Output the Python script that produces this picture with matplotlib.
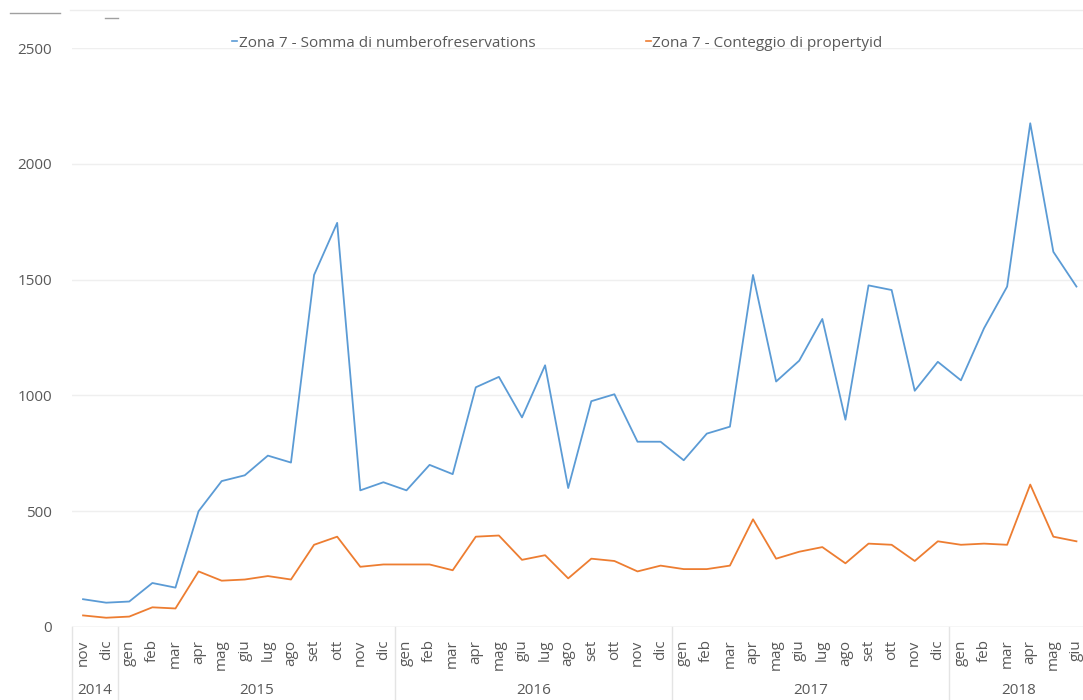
import matplotlib.pyplot as plt
from matplotlib.lines import Line2D
from matplotlib.transforms import blended_transform_factory

# ---------- data ----------
months = ["nov", "dic",
          "gen", "feb", "mar", "apr", "mag", "giu", "lug", "ago", "set", "ott", "nov", "dic",
          "gen", "feb", "mar", "apr", "mag", "giu", "lug", "ago", "set", "ott", "nov", "dic",
          "gen", "feb", "mar", "apr", "mag", "giu", "lug", "ago", "set", "ott", "nov", "dic",
          "gen", "feb", "mar", "apr", "mag", "giu"]
years = ["2014", "2015", "2016", "2017", "2018"]
months_per_year = [2, 12, 12, 12, 6]

reservations = [120, 105, 110, 190, 170, 500, 630, 655, 740, 710, 1520, 1745, 590, 625,
                590, 700, 660, 1035, 1080, 905, 1130, 600, 975, 1005, 800, 800,
                720, 835, 865, 1520, 1060, 1150, 1330, 895, 1475, 1455, 1020, 1145,
                1065, 1290, 1470, 2175, 1620, 1470]
propertyid = [50, 40, 45, 85, 80, 240, 200, 205, 220, 205, 355, 390, 260, 270,
              270, 270, 245, 390, 395, 290, 310, 210, 295, 285, 240, 265,
              250, 250, 265, 465, 295, 325, 345, 275, 360, 355, 285, 370,
              355, 360, 355, 615, 390, 370]

series_names = ["Zona 7 - Somma di numberofreservations",
                "Zona 7 - Conteggio di propertyid"]

# ---------- style ----------
plt.rcParams["font.family"] = ["Open Sans", "DejaVu Sans"]
text_color = "#595959"
blue = "#5B9BD5"
orange = "#ED7D31"
grid_color = "#EFEFEF"

fig = plt.figure(figsize=(10.83, 7.0), dpi=100)
ax = fig.add_axes([71.5 / 1083, 73 / 700, 1016.5 / 1083, 579 / 700])

x = list(range(len(months)))
ax.plot(x, reservations, color=blue, linewidth=1.3)
ax.plot(x, propertyid, color=orange, linewidth=1.3)

ax.set_xlim(-0.5, len(months) - 0.5)
ax.set_ylim(0, 2500)
ax.set_yticks([0, 500, 1000, 1500, 2000, 2500])
ax.tick_params(axis="y", length=0, labelsize=11, labelcolor=text_color, pad=14)
ax.grid(True, axis="y", color=grid_color, linewidth=1)
for s in ax.spines.values():
    s.set_visible(False)
ax.axhline(0, color="#E4E4E4", linewidth=1)

# month labels
ax.set_xticks(x)
ax.set_xticklabels(months, rotation=90, fontsize=11, color=text_color)
ax.tick_params(axis="x", length=0, pad=9)

# year labels and separators
trans = blended_transform_factory(ax.transData, ax.transAxes)
start = 0
bounds = [-0.5]
for yr, n in zip(years, months_per_year):
    center = start + (n - 1) / 2
    ax.text(center, -0.109, yr, transform=trans, ha="center", va="center",
            fontsize=11, color=text_color)
    start += n
    bounds.append(start - 0.5)
for b in bounds[:-1]:
    ax.add_line(Line2D([b, b], [0, -0.13], transform=trans, color="#E4E4E4",
                       linewidth=1, clip_on=False))

# legend
handles = [Line2D([], [], color=blue, linewidth=1.2),
           Line2D([], [], color=orange, linewidth=1.2)]
leg = ax.legend(handles, series_names, loc="upper center", bbox_to_anchor=(0.478, 1.045),
                ncol=2, frameon=False, handlelength=0.35, handletextpad=0.1,
                columnspacing=7.2, fontsize=11)
for t in leg.get_texts():
    t.set_color(text_color)

# faint top border and tiny artifacts
fig.add_artist(Line2D([70 / 1083, 1], [690 / 700, 690 / 700], color="#EDEDED", linewidth=1))
fig.add_artist(Line2D([10 / 1083, 60 / 1083], [687 / 700, 687 / 700], color="#A0A0A0", linewidth=1))
fig.add_artist(Line2D([105 / 1083, 118 / 1083], [682 / 700, 682 / 700], color="#A0A0A0", linewidth=1))

fig.savefig("out.png", dpi=100)
